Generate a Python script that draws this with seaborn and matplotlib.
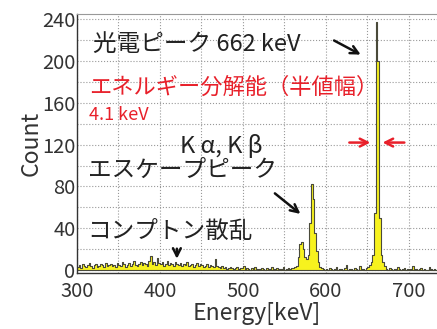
import numpy as np
import pandas as pd
import matplotlib.pyplot as plt
import seaborn as sns

plt.switch_backend('Agg')

# Spectrum: counts in 2 keV bins starting at 300 keV
bin_start = 300
bin_width = 2
compton_counts = [3, 5, 2, 6, 4, 3, 5, 7, 4, 2, 5, 6, 3, 4, 6, 5, 3, 7, 4, 5,
                  6, 4, 5, 3, 7, 5, 4, 8, 6, 3, 5, 7, 4, 6, 9, 5, 4, 6, 8, 5,
                  7, 6, 4, 9, 13, 6, 8, 5, 11, 7, 6, 8, 4, 6, 9, 5, 7, 6, 4, 8,
                  6, 5, 7, 4, 6, 5, 8, 4, 5, 6, 3, 5, 7, 4, 6, 5, 3, 4, 6, 3, 5, 4, 3, 10, 4]
flat_counts = [3, 2, 4, 2, 3, 1, 2, 3, 2, 1, 2, 3, 1, 2, 2,
               4, 1, 2, 1, 0, 2, 1, 3, 1, 0, 1, 2, 1, 0, 2, 1, 1, 3, 0, 1, 2, 0, 1, 1, 3, 0, 1, 2, 1, 2]
escape_counts = [2, 3, 4, 12, 25, 27, 20, 12, 10, 14, 45, 82, 68, 35, 18, 8, 3, 2, 1, 0]
between_counts = [1, 0, 2, 1, 0, 1, 3, 0, 1, 1, 0, 2, 5, 0, 1, 1, 0, 2, 1, 0, 4, 1, 1, 0, 2]
photo_counts = [3, 5, 8, 14, 55, 237, 200, 50, 14, 8, 4]
tail_counts = [1, 0, 2, 1, 0, 1, 0, 3, 1, 0, 1, 2, 0, 1, 0, 1, 4, 0, 1, 0, 1, 2, 0, 1, 0, 0, 3, 1, 0, 1, 0]

counts = compton_counts + flat_counts + escape_counts + between_counts + photo_counts + tail_counts
energy = [bin_start + bin_width * i + bin_width / 2 for i in range(len(counts))]
edges = [bin_start + bin_width * i for i in range(len(counts) + 1)]
spectrum = pd.DataFrame({'Energy': energy, 'Count': counts})

x_ticks = [300, 350, 400, 450, 500, 550, 600, 650, 700]
x_labels = ['300', '', '400', '', '500', '', '600', '', '700']
y_ticks = [0, 20, 40, 60, 80, 100, 120, 140, 160, 180, 200, 220, 240]
y_labels = ['0', '', '40', '', '80', '', '120', '', '160', '', '200', '', '240']

sns.set_style('white')
plt.rcParams['font.family'] = ['Noto Sans CJK JP', 'DejaVu Sans']

fig = plt.figure(figsize=(4.37, 3.29), dpi=100)
ax = fig.add_axes([0.176, 0.170, 0.824, 0.787])

sns.histplot(data=spectrum, x='Energy', weights='Count', bins=edges, element='step',
             fill=True, color='#f7f21e', alpha=1, edgecolor='#4a4a3a', linewidth=0.8, ax=ax)

ax.set_xlim(300, 734)
ax.set_ylim(-3, 244)
ax.set_xticks(x_ticks)
ax.set_xticklabels(x_labels)
ax.set_yticks(y_ticks)
ax.set_yticklabels(y_labels)
ax.set_xticks(np.arange(300, 735, 10), minor=True)
ax.set_yticks(np.arange(0, 246, 5), minor=True)
ax.tick_params(which='major', direction='in', length=6, width=0.8, labelsize=14.5,
               colors='#333333')
ax.tick_params(axis='x', which='major', pad=6)
ax.tick_params(axis='y', which='major', pad=1)
ax.tick_params(which='minor', direction='in', length=3, width=0.6, colors='#333333')
ax.grid(True, which='major', linestyle=':', color='#999999', linewidth=0.8)
ax.set_axisbelow(True)

for side in ['left', 'bottom']:
    ax.spines[side].set_color('#333333')
    ax.spines[side].set_linewidth(1.0)
ax.spines['top'].set_color('#999999')
ax.spines['right'].set_visible(False)

ax.set_xlabel('Energy[keV]', fontsize=16.5, color='#333333', labelpad=0)
ax.set_ylabel('Count', fontsize=16.5, color='#333333', labelpad=0)

txt = '#222222'
red = '#e8202a'
ax.text(319, 216, '光電ピーク 662 keV', fontsize=17, color=txt, va='center')
ax.text(315, 175, 'エネルギー分解能（半値幅）', fontsize=16, color=red, va='center')
ax.text(315, 148, '4.1 keV', fontsize=13, color=red, va='center')
ax.text(424, 119, 'K α, K β', fontsize=17, color=txt, va='center')
ax.text(313, 95, 'エスケープピーク', fontsize=17, color=txt, va='center')
ax.text(313, 37, 'コンプトン散乱', fontsize=17, color=txt, va='center')

arrow_black = dict(arrowstyle='->', color='#111111', lw=1.8, mutation_scale=14)
ax.annotate('', xy=(645, 205), xytext=(607, 221), arrowprops=arrow_black)
ax.annotate('', xy=(572, 52), xytext=(536, 75), arrowprops=arrow_black)
ax.annotate('', xy=(420.5, 8), xytext=(420.5, 23), arrowprops=arrow_black)

arrow_red = dict(arrowstyle='->', color=red, lw=1.8, mutation_scale=14)
ax.annotate('', xy=(657, 122), xytext=(625, 122), arrowprops=arrow_red)
ax.annotate('', xy=(665, 122), xytext=(698, 122), arrowprops=arrow_red)

fig.savefig('out.png', dpi=100)
plt.close(fig)
